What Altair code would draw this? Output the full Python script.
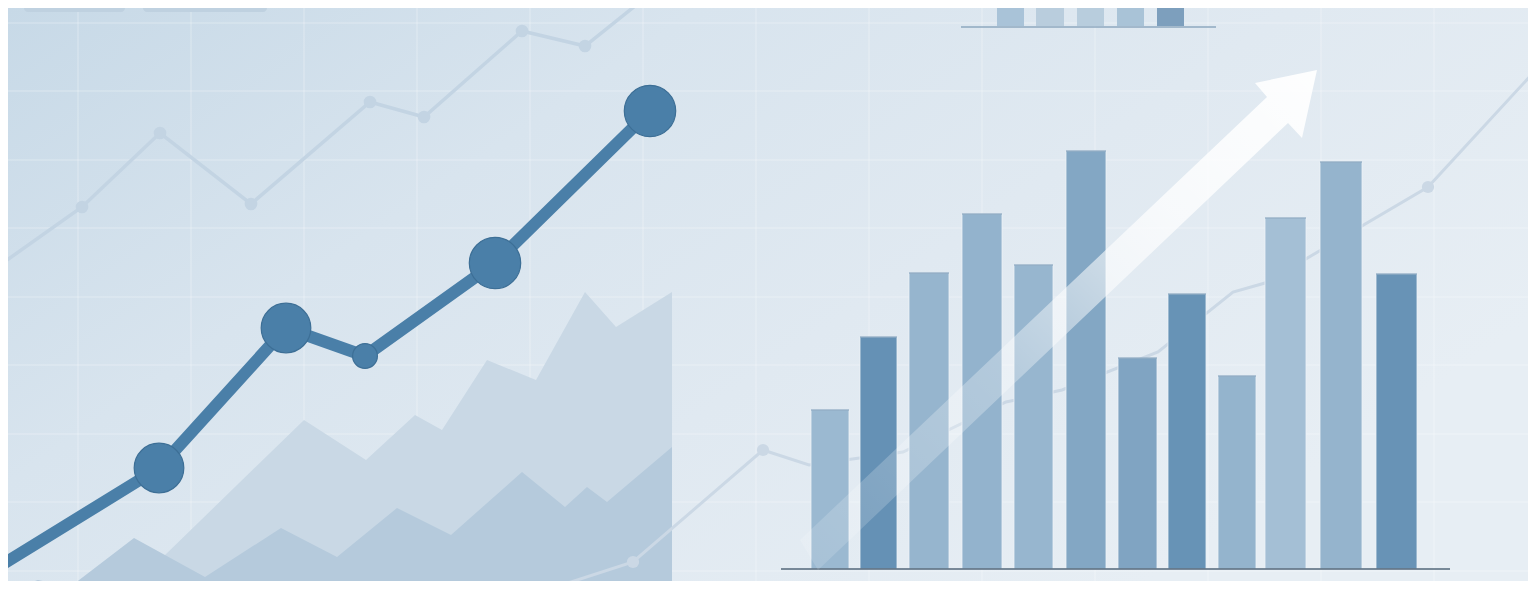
import altair as alt
import pandas as pd

# ---- coordinate frame of the illustration ----
X_DOMAIN = [8, 1528]
Y_DOMAIN = [8, 581]

# ---- faint grid ----
grid_x = [78, 191, 304, 417, 530, 643, 756, 869, 982, 1095, 1208, 1321, 1434]
grid_y = [23, 91, 160, 228, 297, 365, 434, 502, 571]

# ---- placeholder title bars (top left) ----
title_x0 = [24, 143]
title_x1 = [125, 267]
title_y0 = [4, 4]
title_y1 = [12, 12]

# ---- faint background trend line (left) ----
faint_left_x = [0, 82, 160, 251, 370, 424, 522, 585, 645]
faint_left_y = [265, 207, 133, 204, 102, 117, 31, 46, -2]

# ---- faint background trend line (right) ----
faint_right_x = [540, 633, 763, 809, 903, 1006, 1062, 1158, 1233, 1265, 1428, 1545]
faint_right_y = [592, 562, 450, 465, 452, 402, 390, 352, 292, 283, 187, 60]
faint_right_pts = [1, 2, 10]

# ---- background areas (lower left) ----
areaA_x = [130, 304, 366, 415, 442, 487, 536, 585, 616, 672]
areaA_y = [589, 420, 460, 415, 430, 360, 380, 292, 327, 292]
areaB_x = [10, 38, 70, 134, 205, 281, 337, 397, 451, 522, 565, 587, 607, 672]
areaB_y = [589, 580, 587, 538, 577, 528, 557, 508, 535, 472, 507, 487, 502, 447]
AREA_BOTTOM = 590

# ---- main line with markers ----
main_x = [0, 159, 286, 365, 495, 650]
main_y = [566, 468, 328, 356, 263, 111]
marker_r = [0, 28, 28, 14, 29, 29]

# ---- small bar chart (top middle) ----
mini_x0 = [997, 1036, 1077, 1117, 1157]
mini_x1 = [1024, 1064, 1104, 1144, 1184]
mini_top = [0, 0, 0, 0, 0]
mini_colors = ["#a9c3d8", "#b9cddd", "#b8cddd", "#a9c3d7", "#7d9fbd"]
MINI_BASE = 27

# ---- main bar chart (right) ----
bar_x0 = [811, 860, 909, 962, 1014, 1066, 1118, 1168, 1218, 1265, 1320, 1376]
bar_x1 = [849, 897, 949, 1002, 1053, 1106, 1157, 1206, 1256, 1306, 1362, 1417]
bar_top = [410, 337, 273, 214, 265, 151, 358, 294, 376, 218, 162, 274]
bar_colors = ["#9bb9d1", "#6591b5", "#96b5ce", "#93b3cd", "#97b6cf", "#83a7c4",
              "#80a4c2", "#6793b6", "#94b4cd", "#a4bfd5", "#95b4cd", "#6893b6"]
BAR_BASE = 569
BASE_X = [781, 1450]

# ---- arrow ----
arrow_x = [800, 1267, 1255, 1317, 1302, 1288, 818, 800]
arrow_y = [540, 97, 83, 70, 138, 123, 570, 540]

xs = alt.Scale(domain=X_DOMAIN, nice=False, zero=False)
ys = alt.Scale(domain=Y_DOMAIN, nice=False, zero=False, reverse=True)


def X(f):
    return alt.X(f, type="quantitative", scale=xs, axis=None)


def Y(f):
    return alt.Y(f, type="quantitative", scale=ys, axis=None)


bg_df = pd.DataFrame({"x0": [X_DOMAIN[0]], "x1": [X_DOMAIN[1]],
                      "y0": [Y_DOMAIN[0]], "y1": [Y_DOMAIN[1]]})
bg = alt.Chart(bg_df).mark_rect(
    clip=True,
    fill=alt.Gradient(
        gradient="linear", x1=0, y1=0, x2=1, y2=0.55,
        stops=[alt.GradientStop(color="#c7d9e7", offset=0),
               alt.GradientStop(color="#d8e4ee", offset=0.35),
               alt.GradientStop(color="#e0e9f1", offset=0.65),
               alt.GradientStop(color="#e7eef4", offset=1)])
).encode(x=X("x0"), x2="x1", y=Y("y0"), y2="y1")

gx = alt.Chart(pd.DataFrame({"x": grid_x})).mark_rule(
    color="#ffffff", opacity=0.35, strokeWidth=1, clip=True).encode(x=X("x"))
gy = alt.Chart(pd.DataFrame({"y": grid_y})).mark_rule(
    color="#ffffff", opacity=0.35, strokeWidth=1, clip=True).encode(y=Y("y"))

title_df = pd.DataFrame({"x0": title_x0, "x1": title_x1, "y0": title_y0, "y1": title_y1})
titles = alt.Chart(title_df).mark_rect(color="#bfd1e0", cornerRadius=4, clip=True).encode(
    x=X("x0"), x2="x1", y=Y("y0"), y2="y1")

fl_df = pd.DataFrame({"x": faint_left_x, "y": faint_left_y, "o": range(len(faint_left_x))})
faint_l = alt.Chart(fl_df).mark_line(color="#c3d4e3", strokeWidth=3.5, clip=True).encode(
    x=X("x"), y=Y("y"), order="o:Q")
faint_l_pts = alt.Chart(fl_df.iloc[1:-1]).mark_circle(color="#c3d4e3", opacity=1, size=160, clip=True).encode(
    x=X("x"), y=Y("y"))

fr_df = pd.DataFrame({"x": faint_right_x, "y": faint_right_y, "o": range(len(faint_right_x))})
faint_r = alt.Chart(fr_df).mark_line(color="#cbd8e5", strokeWidth=3, clip=True).encode(
    x=X("x"), y=Y("y"), order="o:Q")
faint_r_pts = alt.Chart(fr_df.iloc[faint_right_pts]).mark_circle(color="#cbd8e5", opacity=1, size=150, clip=True).encode(
    x=X("x"), y=Y("y"))

aA_df = pd.DataFrame({"x": areaA_x, "y": areaA_y, "b": AREA_BOTTOM})
areaA = alt.Chart(aA_df).mark_area(color="#c9d8e5", opacity=1, clip=True).encode(
    x=X("x"), y=Y("y"), y2="b")
aB_df = pd.DataFrame({"x": areaB_x, "y": areaB_y, "b": AREA_BOTTOM})
areaB = alt.Chart(aB_df).mark_area(color="#b5cadc", opacity=1, clip=True).encode(
    x=X("x"), y=Y("y"), y2="b")

mini_df = pd.DataFrame({"x0": mini_x0, "x1": mini_x1, "t": mini_top, "b": MINI_BASE - 1, "c": mini_colors})
mini = alt.Chart(mini_df).mark_rect(clip=True).encode(
    x=X("x0"), x2="x1", y=Y("t"), y2="b", color=alt.Color("c:N", scale=None))
mini_base = alt.Chart(pd.DataFrame({"x0": [961], "x1": [1216], "y": [MINI_BASE]})).mark_rule(
    color="#8ea8bf", strokeWidth=1.5, clip=True).encode(x=X("x0"), x2="x1", y=Y("y"))

bars_df = pd.DataFrame({"x0": bar_x0, "x1": bar_x1, "t": bar_top, "b": BAR_BASE, "c": bar_colors})
bars = alt.Chart(bars_df).mark_rect(stroke="#eef3f8", strokeWidth=1, strokeOpacity=0.8, clip=True).encode(
    x=X("x0"), x2="x1", y=Y("t"), y2="b", color=alt.Color("c:N", scale=None))
bar_tops = alt.Chart(bars_df).mark_rule(color="#5f87a8", strokeWidth=1.5, opacity=0.55, clip=True).encode(
    x=X("x0"), x2="x1", y=Y("t"))
base = alt.Chart(pd.DataFrame({"x0": [BASE_X[0]], "x1": [BASE_X[1]], "y": [BAR_BASE]})).mark_rule(
    color="#53677a", strokeWidth=1.5, clip=True).encode(x=X("x0"), x2="x1", y=Y("y"))

ar_df = pd.DataFrame({"x": arrow_x, "y": arrow_y, "o": range(len(arrow_x))})
arrow = alt.Chart(ar_df).mark_line(
    clip=True, strokeWidth=0, interpolate="linear",
    fill=alt.Gradient(
        gradient="linear", x1=0, y1=1, x2=1, y2=0,
        stops=[alt.GradientStop(color="rgba(255,255,255,0.12)", offset=0),
               alt.GradientStop(color="rgba(255,255,255,0.3)", offset=0.4),
               alt.GradientStop(color="rgba(255,255,255,0.75)", offset=0.72),
               alt.GradientStop(color="rgba(255,255,255,0.95)", offset=1)])
).encode(x=X("x"), y=Y("y"), order="o:Q")

main_df = pd.DataFrame({"x": main_x, "y": main_y, "o": range(len(main_x)),
                        "s": [3.14159 * r * r for r in marker_r]})
main_line = alt.Chart(main_df).mark_line(color="#4a7fa8", strokeWidth=12, clip=True,
                                         strokeJoin="round").encode(
    x=X("x"), y=Y("y"), order="o:Q")
main_pts = alt.Chart(main_df.iloc[1:]).mark_point(
    filled=True, fill="#4a7fa8", stroke="#3d6f96", strokeWidth=1.2, opacity=1, clip=True).encode(
    x=X("x"), y=Y("y"), size=alt.Size("s:Q", scale=None))

chart = alt.layer(
    bg, gx, gy, titles, faint_l, faint_l_pts, areaA, areaB, faint_r, faint_r_pts,
    mini, mini_base, bars, bar_tops, base, arrow, main_line, main_pts
).properties(width=1520, height=573, padding=0).configure_view(stroke=None)

chart.save("out.html", embed_options={"renderer": "svg", "actions": False})
